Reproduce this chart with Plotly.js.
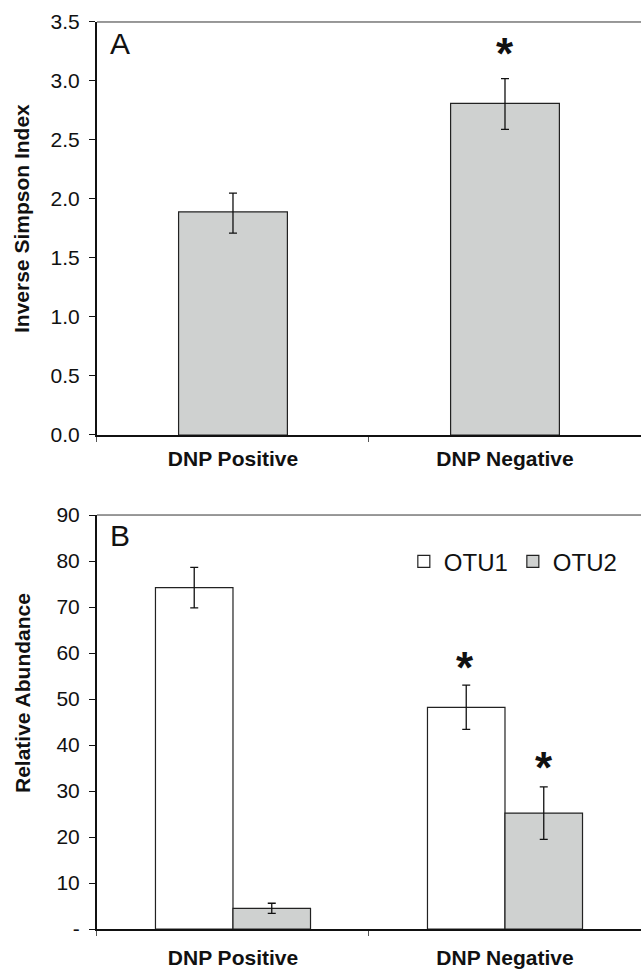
<!DOCTYPE html>
<html>
<head>
<meta charset="utf-8">
<script src="https://cdn.plot.ly/plotly-3.0.1.min.js"></script>
<style>html,body{margin:0;padding:0;background:#fff;}#chart{width:641px;height:969px;}</style>
</head>
<body>
<div id="chart"></div>
<script>
// ---- data ----
const categories = ["DNP Positive", "DNP Negative"];

// Panel A: Inverse Simpson Index
const simpsonValues = [1.89, 2.81];
const simpsonErrPlus = [0.16, 0.21];
const simpsonErrMinus = [0.18, 0.22];

// Panel B: Relative Abundance
const otu1Values = [74.2, 48.2];
const otu1Err = [4.4, 4.8];
const otu2Values = [4.5, 25.2];
const otu2Err = [1.1, 5.7];

const yTicksA = [0, 0.5, 1.0, 1.5, 2.0, 2.5, 3.0, 3.5];
const yTickTextA = ["0.0", "0.5", "1.0", "1.5", "2.0", "2.5", "3.0", "3.5"];
const yTicksB = [0, 10, 20, 30, 40, 50, 60, 70, 80, 90];
const yTickTextB = ["-", "10", "20", "30", "40", "50", "60", "70", "80", "90"];

// significance markers (x: category index + offset, y: value)
const starsA = [{x: 1.0, y: 3.23}];
const starsB = [{x: 0.853, y: 56.8}, {x: 1.142, y: 35.1}];

// ---- styles ----
const FONT = "Liberation Sans, Arial, Helvetica, sans-serif";
const GRAY = "#cfd1d0";
const EDGE = "#222";

const traces = [
  {
    type: "bar", x: categories, y: simpsonValues, xaxis: "x", yaxis: "y",
    width: 0.4, showlegend: false, hoverinfo: "skip",
    marker: {color: GRAY, line: {color: EDGE, width: 1.2}},
    error_y: {type: "data", array: simpsonErrPlus, arrayminus: simpsonErrMinus, symmetric: false,
              color: "#111", thickness: 1.3, width: 4}
  },
  {
    type: "bar", name: "OTU1", x: categories, y: otu1Values, xaxis: "x2", yaxis: "y2",
    hoverinfo: "skip",
    marker: {color: "#ffffff", line: {color: EDGE, width: 1.2}},
    error_y: {type: "data", array: otu1Err, color: "#111", thickness: 1.3, width: 4}
  },
  {
    type: "bar", name: "OTU2", x: categories, y: otu2Values, xaxis: "x2", yaxis: "y2",
    hoverinfo: "skip",
    marker: {color: GRAY, line: {color: EDGE, width: 1.2}},
    error_y: {type: "data", array: otu2Err, color: "#111", thickness: 1.3, width: 4}
  }
];

const xCommon = {
  type: "category", range: [-0.5, 1.5], domain: [0.1513, 1.0],
  showline: true, linecolor: "#111", linewidth: 2,
  ticks: "outside", tickson: "boundaries", ticklen: 5, tickcolor: "#555", tickwidth: 1,
  tickfont: {family: FONT, size: 21, color: "#111", weight: "bold"},
  showgrid: false, zeroline: false, fixedrange: true
};
const yCommon = {
  showline: true, linecolor: "#111", linewidth: 2,
  ticks: "outside", ticklen: 6, tickcolor: "#111", tickwidth: 1,
  tickfont: {family: FONT, size: 21, color: "#111"},
  ticklabelstandoff: 5,
  showgrid: false, zeroline: false, fixedrange: true, tickmode: "array"
};

const annotations = [
  {xref: "paper", yref: "paper", x: 0.1872, y: 0.9556, text: "A", showarrow: false,
   xanchor: "center", yanchor: "middle", font: {family: FONT, size: 30, color: "#111"}},
  {xref: "paper", yref: "paper", x: 0.1872, y: 0.4474, text: "B", showarrow: false,
   xanchor: "center", yanchor: "middle", font: {family: FONT, size: 30, color: "#111"}},
  {xref: "paper", yref: "paper", x: 22/641, y: (969-219)/969, text: "Inverse Simpson Index",
   textangle: -90, showarrow: false, xanchor: "center", yanchor: "middle",
   font: {family: FONT, size: 21, color: "#111", weight: "bold"}},
  {xref: "paper", yref: "paper", x: 22/641, y: (969-693)/969, text: "Relative Abundance",
   textangle: -90, showarrow: false, xanchor: "center", yanchor: "middle",
   font: {family: FONT, size: 21, color: "#111", weight: "bold"}}
];
starsA.forEach(s => annotations.push({xref: "x", yref: "y", x: s.x, y: s.y, text: "*", showarrow: false,
  xanchor: "center", yanchor: "middle", font: {family: FONT, size: 44, color: "#111", weight: "bold"}}));
starsB.forEach(s => annotations.push({xref: "x2", yref: "y2", x: s.x, y: s.y, text: "*", showarrow: false,
  xanchor: "center", yanchor: "middle", font: {family: FONT, size: 44, color: "#111", weight: "bold"}}));

const layout = {
  width: 641, height: 969,
  margin: {l: 0, r: 0, t: 0, b: 0},
  paper_bgcolor: "#fff", plot_bgcolor: "#fff",
  barmode: "group", bargap: 0.43, bargroupgap: 0,
  showlegend: true,
  legend: {orientation: "h", x: 0.63, y: 0.4203, xanchor: "left", yanchor: "middle",
           font: {family: FONT, size: 24, color: "#111"}, bgcolor: "rgba(0,0,0,0)",
           itemwidth: 30, tracegroupgap: 0},
  xaxis: Object.assign({}, xCommon, {anchor: "y", ticklabelstandoff: 4}),
  yaxis: Object.assign({}, yCommon, {domain: [0.5511, 0.9773], range: [0, 3.5], anchor: "x",
          tickvals: yTicksA, ticktext: yTickTextA}),
  xaxis2: Object.assign({}, xCommon, {anchor: "y2", ticklabelstandoff: 9}),
  yaxis2: Object.assign({}, yCommon, {domain: [0.04128, 0.4685], range: [0, 90], anchor: "x2",
          tickvals: yTicksB, ticktext: yTickTextB}),
  shapes: [
    {type: "line", xref: "x domain", yref: "y domain", x0: 0, x1: 1, y0: 1, y1: 1,
     line: {color: "#333", width: 1}},
    {type: "line", xref: "x2 domain", yref: "y2 domain", x0: 0, x1: 1, y0: 1, y1: 1,
     line: {color: "#333", width: 1}}
  ],
  annotations: annotations
};

Plotly.newPlot("chart", traces, layout, {staticPlot: true, displayModeBar: false});
</script>
</body>
</html>
